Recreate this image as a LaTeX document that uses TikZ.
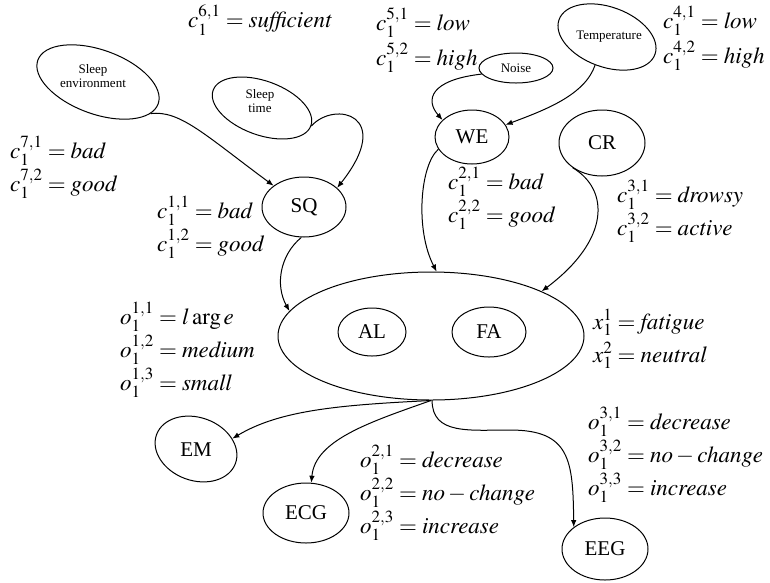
\documentclass[tikz,border=0pt]{standalone}
\usepackage{mathptmx}
\usepackage{fontspec}
\setmainfont{Liberation Serif}
\usetikzlibrary{shapes.geometric,arrows.meta}

\tikzset{
	var/.style={draw,ellipse,line width=1pt,inner sep=0pt,font=\fontsize{21}{24}\selectfont},
	smalltxt/.style={inner sep=0pt,align=center,font=\fontsize{13}{14}\selectfont},
	vals/.style={anchor=west,inner sep=0pt,align=left,font=\fontsize{23}{33}\selectfont},
	link/.style={line width=1pt,-{Latex[length=7pt,width=5.5pt]}}
}

\begin{document}
\begin{tikzpicture}[x=1pt,y=-1pt]
\useasboundingbox (0,0) rectangle (770,582);
% causes of sleep quality
\node[var,rotate=-20,minimum width=128pt,minimum height=64pt] (senv) at (98,82) {};
\node[smalltxt] (senvtxt) at (93,76) {Sleep\\environment};
\node[var,rotate=-20,minimum width=104pt,minimum height=54pt] (stime) at (262,108) {};
\node[smalltxt] (stimetxt) at (260,101) {Sleep\\time};
\node[var,minimum width=84pt,minimum height=60pt] (sq) at (304,207) {SQ};
% causes of work environment
\node[var,font=\fontsize{13}{14}\selectfont,minimum width=74pt,minimum height=30pt] (noise) at (516,68) {Noise};
\node[var,rotate=-20,minimum width=102pt,minimum height=60pt] (temp) at (607,37) {};
\node[smalltxt] (temptxt) at (609,37) {Temperature};
\node[var,minimum width=74pt,minimum height=54pt] (we) at (472,137) {WE};
\node[var,minimum width=86pt,minimum height=66pt] (cr) at (602,143) {CR};
% hidden state
\node[var,minimum width=306pt,minimum height=128pt] (state) at (431,336) {};
\node[var,minimum width=68pt,minimum height=48pt] (al) at (372,332) {AL};
\node[var,minimum width=74pt,minimum height=50pt] (fa) at (489,332) {FA};
% observations
\node[var,rotate=-20,minimum width=84pt,minimum height=63pt] (em) at (196,449) {};
\node[inner sep=0pt,font=\fontsize{21}{24}\selectfont] (emtxt) at (196,450) {EM};
\node[var,minimum width=86pt,minimum height=60pt] (ecg) at (306,513) {ECG};
\node[var,minimum width=86pt,minimum height=62pt] (eeg) at (605,549) {EEG};

% value labels
\node[vals] (c6) at (188,20) {$c_1^{6,1} = \mathit{sufficient}$};
\node[vals] (c5) at (376,40) {$c_1^{5,1} = \mathit{low}$\\[2pt]$c_1^{5,2} = \mathit{high}$};
\node[vals] (c4) at (663,38) {$c_1^{4,1} = \mathit{low}$\\[2pt]$c_1^{4,2} = \mathit{high}$};
\node[vals] (c7) at (10,167) {$c_1^{7,1} = \mathit{bad}$\\$c_1^{7,2} = \mathit{good}$};
\node[vals] (c1) at (157,227) {$c_1^{1,1} = \mathit{bad}$\\$c_1^{1,2} = \mathit{good}$};
\node[vals] (c2) at (448,198) {$c_1^{2,1} = \mathit{bad}$\\$c_1^{2,2} = \mathit{good}$};
\node[vals] (c3) at (617,211) {$c_1^{3,1} = \mathit{drowsy}$\\$c_1^{3,2} = \mathit{active}$};
\node[vals] (o1) at (120,350) {$o_1^{1,1} = l\arg e$\\$o_1^{1,2} = \mathit{medium}$\\$o_1^{1,3} = \mathit{small}$};
\node[vals] (x1) at (593,339) {$x_1^1 = \mathit{fatigue}$\\$x_1^2 = \mathit{neutral}$};
\node[vals] (o2) at (360,493) {$o_1^{2,1} = \mathit{decrease}$\\$o_1^{2,2} = \mathit{no}-\mathit{change}$\\$o_1^{2,3} = \mathit{increase}$};
\node[vals] (o3) at (588,455) {$o_1^{3,1} = \mathit{decrease}$\\$o_1^{3,2} = \mathit{no}-\mathit{change}$\\$o_1^{3,3} = \mathit{increase}$};

% links
\draw[link] (senv.-11) .. controls (180,110) and (205,135) .. (sq.145);
\draw[link] (stime.0) .. controls (335,100) and (395,115) .. (sq.30);
\draw[link] (sq.-95) .. controls (280,255) and (275,285) .. (state.170);
\draw[link] (noise.190) .. controls (430,80) and (425,100) .. (we.150);
\draw[link] (temp.-93) .. controls (585,95) and (545,110) .. (we.20);
\draw[link] (we.200) .. controls (420,165) and (415,230) .. (state.85);
\draw[link] (cr.-140) .. controls (610,190) and (610,240) .. (state.22);
\draw[link] (state.-90) .. controls (340,405) and (280,410) .. (em.36);
\draw[link] (state.-90) .. controls (370,422) and (315,440) .. (ecg.80);
\draw[link] (state.-89) .. controls (432,435) and (470,430) .. (510,430)
	.. controls (570,430) and (573,460) .. (eeg.145);
\end{tikzpicture}
\end{document}
